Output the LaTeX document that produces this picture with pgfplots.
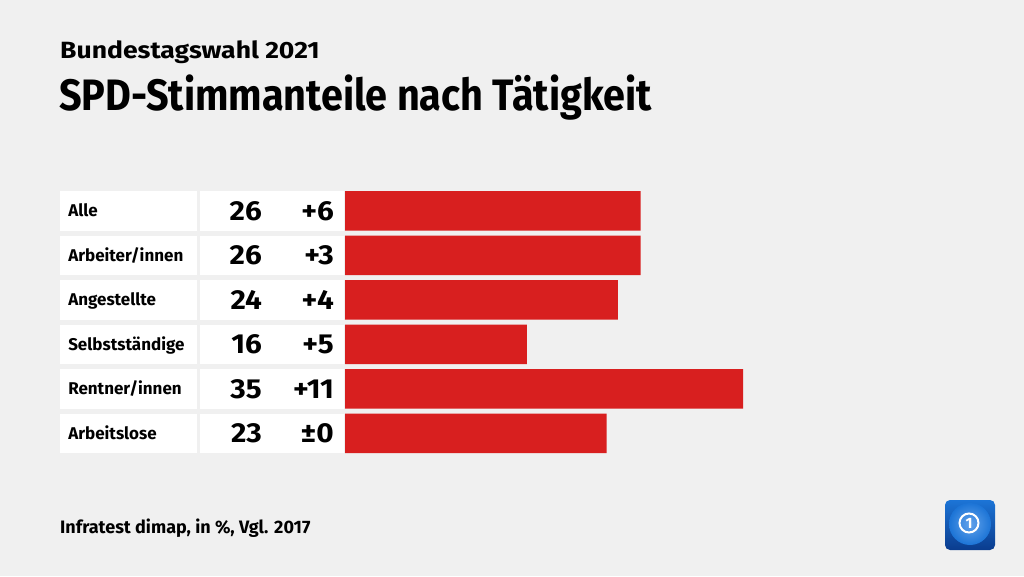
\documentclass[border=0pt]{standalone}
\usepackage{pgfplots}
\pgfplotsset{compat=1.18}
\usepackage{pgfplotstable}
\usepackage{fontspec}
\setmainfont{Fira Sans}
\definecolor{bg}{HTML}{F0F0F0}
\definecolor{spdred}{HTML}{D81F1F}
\definecolor{logotop}{HTML}{1C74D6}
\definecolor{logobot}{HTML}{0A3C8E}
\definecolor{globe}{HTML}{3A8BE6}

\pgfplotstableread[col sep=comma]{
y,label,value,change
0,Alle,26,+6
1,Arbeiter/innen,26,+3
2,Angestellte,24,+4
3,Selbstständige,16,+5
4,Rentner/innen,35,+11
5,Arbeitslose,23,±0
}\data

\begin{document}
\begin{tikzpicture}[x=1pt,y=1pt]
\useasboundingbox[fill=bg] (0,0) rectangle (1024,576);

% titles
\node[anchor=base west, inner sep=0, font=\bfseries\fontsize{23.5}{23.5}\selectfont\addfontfeatures{FakeStretch=1.13}] at (60,517) {Bundestagswahl 2021};
\node[anchor=base west, inner sep=0, font=\bfseries\fontsize{44}{44}\selectfont\addfontfeatures{FakeStretch=0.9}] at (59,465) {SPD-Stimmanteile nach Tätigkeit};
% source
\node[anchor=base west, inner sep=0, font=\bfseries\fontsize{18}{18}\selectfont] at (60,43) {Infratest dimap, in \%, Vgl. 2017};

\begin{axis}[
    at={(60pt,387.5pt)}, anchor=north west,
    scale only axis,
    width=739.85pt, height=267pt,
    xmin=-25.07, xmax=40,
    ymin=-0.5, ymax=5.5,
    y dir=reverse,
    hide axis,
    clip=false,
  ]
  % white boxes behind label and numbers
  \pgfplotsinvokeforeach{0,...,5}{
    \fill[white] (axis cs:-25.07,#1-0.4438) rectangle (axis cs:-13.02,#1+0.4438);
    \fill[white] (axis cs:-12.75,#1-0.4438) rectangle (axis cs:-0.05,#1+0.4438);
  }

  % bars
  \addplot[xbar, fill=spdred, draw=none, bar width=39.5pt]
    table[x=value, y=y] {\data};

  % category labels
  \addplot[only marks, mark=none, nodes near coords, point meta=explicit symbolic,
    nodes near coords style={anchor=base west, inner sep=0, yshift=-5.9pt,
      font=\bfseries\fontsize{17}{17}\selectfont, text=black}]
    table[x expr=-24.36, y=y, meta=label] {\data};

  % values
  \addplot[only marks, mark=none, nodes near coords, point meta=explicit symbolic,
    nodes near coords style={anchor=base east, inner sep=0, yshift=-9.3pt,
      font=\bfseries\fontsize{27.5}{27.5}\selectfont\addfontfeatures{FakeStretch=1.08}, text=black}]
    table[x expr=-7.3, y=y, meta=value] {\data};

  % changes
  \addplot[only marks, mark=none, nodes near coords, point meta=explicit symbolic,
    nodes near coords style={anchor=base east, inner sep=0, yshift=-9.3pt,
      font=\bfseries\fontsize{27.5}{27.5}\selectfont\addfontfeatures{FakeStretch=1.08}, text=black}]
    table[x expr=-0.97, y=y, meta=change] {\data};
\end{axis}

% logo
\shade[rounded corners=5pt, top color=logotop, bottom color=logobot] (945,26) rectangle (995,76);
\begin{scope}
  \clip[rounded corners=5pt] (945,26) rectangle (995,76);
  \shade[inner color=globe!80!white, outer color=logotop] (970,52) circle (21);
\end{scope}
\draw[white, line width=2pt] (969,53) circle (9.5);
\node[white, font=\bfseries\fontsize{15}{15}\selectfont, inner sep=0] at (969,53) {1};
\end{tikzpicture}
\end{document}
